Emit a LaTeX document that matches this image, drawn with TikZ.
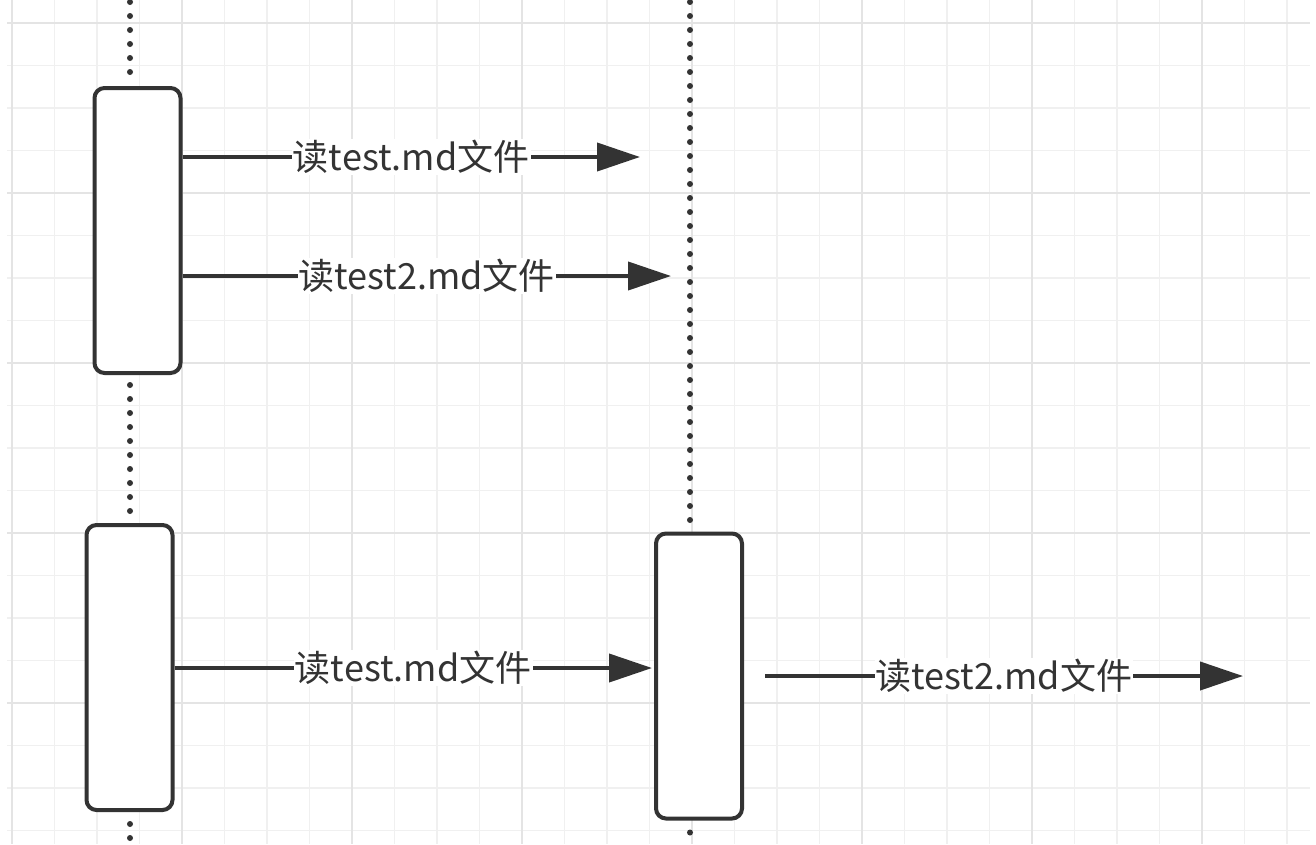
\documentclass[tikz,border=0pt]{standalone}
\usepackage{fontspec}
\setmainfont{Noto Sans CJK SC}
\usetikzlibrary{arrows.meta}
\definecolor{ink}{HTML}{333333}
\definecolor{gridminor}{HTML}{F0F0F0}
\definecolor{gridmajor}{HTML}{E4E4E4}
\tikzset{
  actbox/.style={draw=ink, line width=4pt, rounded corners=10pt, fill=white, minimum width=86pt, minimum height=285pt, inner sep=0pt},
  lifeline/.style={draw=ink, line width=6pt, line cap=round, dash pattern=on 0pt off 14pt},
  msg/.style={draw=ink, line width=4pt, -{Triangle[length=43pt,width=28pt]}},
  lbl/.style={fill=white, text=ink, inner sep=1pt, font=\fontsize{36}{42}\selectfont}
}
\begin{document}
\begin{tikzpicture}[x=1pt,y=-1pt]
\useasboundingbox (0,0) rectangle (1316,844);
\fill[white] (0,0) rectangle (1316,844);
% minor grid
\foreach \i in {0,...,30} {
  \draw[gridminor, line width=1.5pt] ({12+42.5*\i},0) -- ({12+42.5*\i},844);
}
\foreach \j in {0,...,19} {
  \draw[gridminor, line width=1.5pt] (7,{23+42.5*\j}) -- (1310,{23+42.5*\j});
}
% major grid
\foreach \i in {0,...,7} {
  \draw[gridmajor, line width=2pt] ({12+170*\i},0) -- ({12+170*\i},844);
}
\foreach \j in {0,...,4} {
  \draw[gridmajor, line width=2pt] (7,{23+170*\j}) -- (1310,{23+170*\j});
}
% activation boxes
\node[actbox] (b1) at (137.5,230.5) {};
\node[actbox] (b2) at (129.5,667.5) {};
\node[actbox] (b3) at (699,676) {};
% lifelines
\coordinate (l1) at (130,2);
\coordinate (l2) at (690,2);
\coordinate (l1end) at (130,844);
\coordinate (l2end) at (690,844);
\draw[lifeline] (l1) -- (l1 |- b1.north);
\draw[lifeline] (l1 |- b1.south) ++(0,10) -- (l1 |- b2.north);
\draw[lifeline] (l1 |- b2.south) ++(0,12) -- (l1end);
\draw[lifeline] (l2) -- (l2 |- b3.north);
\draw[lifeline] (l2 |- b3.south) ++(0,12) -- (l2end);
% messages
\coordinate (t1) at (640,157);
\coordinate (t2) at (671,276);
\coordinate (t3) at (652,668);
\coordinate (s4) at (765,676);
\coordinate (t4) at (1243,676);
\draw[msg] (b1.east |- t1) -- node[lbl] (m1) {读test.md文件} (t1);
\draw[msg] (b1.east |- t2) -- node[lbl] (m2) {读test2.md文件} (t2);
\draw[msg] (b2.east |- t3) -- node[lbl] (m3) {读test.md文件} (t3);
\draw[msg] (s4) -- node[lbl] (m4) {读test2.md文件} (t4);
\end{tikzpicture}
\end{document}
